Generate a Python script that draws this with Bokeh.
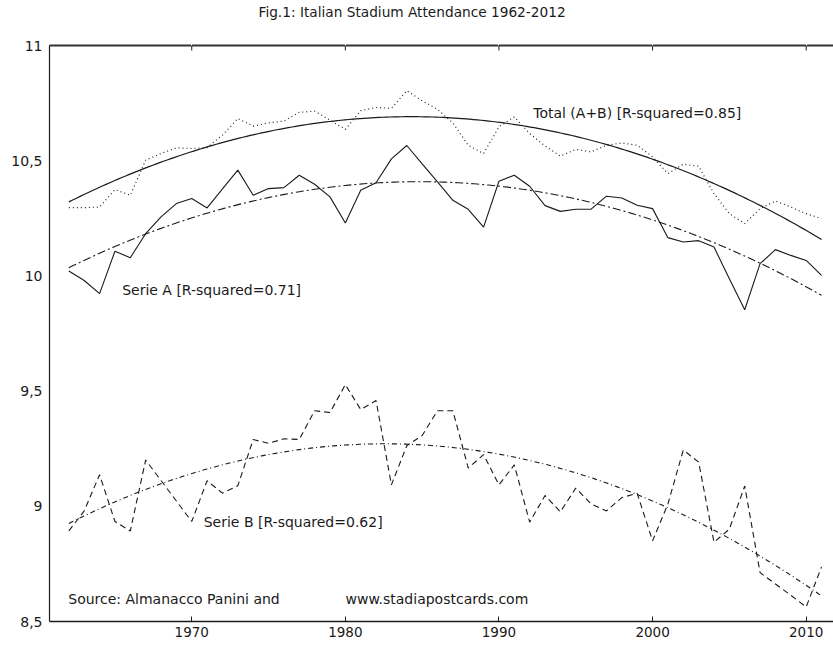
import numpy as np
from bokeh.plotting import figure
from bokeh.models import Label, LinearAxis, FixedTicker, Range1d, ColumnDataSource
from bokeh.embed import file_html
from bokeh.resources import INLINE

years = [1962, 1963, 1964, 1965, 1966, 1967, 1968, 1969, 1970, 1971,
         1972, 1973, 1974, 1975, 1976, 1977, 1978, 1979, 1980, 1981,
         1982, 1983, 1984, 1985, 1986, 1987, 1988, 1989, 1990, 1991,
         1992, 1993, 1994, 1995, 1996, 1997, 1998, 1999, 2000, 2001,
         2002, 2003, 2004, 2005, 2006, 2007, 2008, 2009, 2010, 2011]

serie_a = [10.021, 9.980, 9.923, 10.107, 10.079, 10.183, 10.256, 10.314, 10.336, 10.295,
           10.378, 10.459, 10.350, 10.379, 10.383, 10.437, 10.398, 10.343, 10.230, 10.372,
           10.404, 10.508, 10.566, 10.486, 10.408, 10.328, 10.289, 10.212, 10.411, 10.437,
           10.389, 10.305, 10.280, 10.289, 10.290, 10.346, 10.338, 10.307, 10.292, 10.166,
           10.147, 10.153, 10.125, 9.988, 9.853, 10.053, 10.114, 10.089, 10.067, 10.002]

serie_b = [8.893, 8.980, 9.137, 8.934, 8.893, 9.201, 9.112, 9.023, 8.934, 9.111,
           9.057, 9.089, 9.290, 9.273, 9.293, 9.290, 9.415, 9.407, 9.528, 9.420,
           9.459, 9.093, 9.263, 9.307, 9.415, 9.415, 9.166, 9.224, 9.093, 9.180,
           8.931, 9.047, 8.976, 9.079, 9.010, 8.980, 9.038, 9.056, 8.850, 9.010,
           9.244, 9.192, 8.844, 8.901, 9.088, 8.712, 8.663, 8.614, 8.563, 8.737]

total = [10.296, 10.296, 10.299, 10.375, 10.350, 10.502, 10.531, 10.556, 10.553, 10.557,
         10.611, 10.683, 10.650, 10.664, 10.672, 10.710, 10.715, 10.676, 10.636, 10.717,
         10.731, 10.727, 10.804, 10.760, 10.723, 10.664, 10.567, 10.531, 10.647, 10.690,
         10.618, 10.564, 10.520, 10.549, 10.538, 10.567, 10.577, 10.567, 10.517, 10.444,
         10.485, 10.476, 10.357, 10.270, 10.227, 10.292, 10.325, 10.299, 10.270, 10.249]

x_ticks = [1970, 1980, 1990, 2000, 2010]
x_tick_labels = ["1970", "1980", "1990", "2000", "2010"]
y_ticks = [8.5, 9, 9.5, 10, 10.5, 11]
y_tick_labels = ["8,5", "9", "9,5", "10", "10,5", "11"]

title_text = "Fig.1: Italian Stadium Attendance 1962-2012"
label_total = "Total (A+B) [R-squared=0.85]"
label_a = "Serie A [R-squared=0.71]"
label_b = "Serie B [R-squared=0.62]"
source_1 = "Source: Almanacco Panini and"
source_2 = "www.stadiapostcards.com"

FONT = "DejaVu Sans"
INK = "#1a1a1a"

Y0, Y1 = 8.5, 11.0
FRAME_H = 576

# quadratic trend fits (regression of each series on year)
yr = np.array(years, dtype=float)
grid = np.linspace(yr.min(), yr.max(), 200)
def quad_fit(vals):
    c = np.polyfit(yr - 1985.0, np.array(vals), 2)
    return np.polyval(c, grid - 1985.0)

src = ColumnDataSource(dict(year=years, a=serie_a, b=serie_b, t=total))
trend_src = ColumnDataSource(dict(x=grid, a=quad_fit(serie_a), b=quad_fit(serie_b), t=quad_fit(total)))

p = figure(width=833, height=643, output_backend="svg", toolbar_location=None,
           x_range=Range1d(1960.74, 2011.78), y_range=Range1d(Y0, Y1),
           x_axis_location=None, y_axis_location=None,
           min_border_left=49, min_border_right=0, min_border_top=45, min_border_bottom=22,
           title=title_text)
p.outline_line_color = None
p.xgrid.visible = False
p.ygrid.visible = False
p.background_fill_color = "white"
p.border_fill_color = "white"

# data lines
p.line("year", "t", source=src, line_color="#222222", line_width=1.2, line_dash="1 3")
p.line("year", "a", source=src, line_color=INK, line_width=1.1)
p.line("year", "b", source=src, line_color=INK, line_width=1.1, line_dash="6 4")
# trend lines
p.line("x", "t", source=trend_src, line_color=INK, line_width=1.2)
p.line("x", "a", source=trend_src, line_color=INK, line_width=1.1, line_dash="8 3 2 3")
p.line("x", "b", source=trend_src, line_color=INK, line_width=1.1, line_dash="5 3 1 3")

# axes
xb = LinearAxis(ticker=FixedTicker(ticks=x_ticks),
                major_label_overrides=dict(zip(x_ticks, x_tick_labels)))
xb.major_tick_in = 5
xb.major_tick_out = 0
xb.minor_tick_line_color = None
xb.axis_line_width = 1.5
xb.axis_line_color = INK
xb.major_tick_line_color = INK
xb.major_label_text_font = FONT
xb.major_label_text_font_size = "13.5px"
xb.major_label_text_color = INK
xb.major_label_standoff = 5
p.add_layout(xb, "below")

# top frame line: unlabeled; its (white) outward tick extent reserves room under the title
xt = LinearAxis(ticker=FixedTicker(ticks=x_ticks))
xt.major_tick_in = 0
xt.major_tick_out = 25
xt.major_tick_line_color = "white"
xt.minor_tick_line_color = None
xt.axis_line_width = 2
xt.axis_line_color = "#333333"
xt.major_label_text_color = None
xt.major_label_text_font_size = "1px"
xt.major_label_standoff = 0
p.add_layout(xt, "above")
tick_len = 5 * (Y1 - Y0) / FRAME_H
p.segment(x0=x_ticks, y0=[Y1] * len(x_ticks), x1=x_ticks, y1=[Y1 - tick_len] * len(x_ticks),
          line_color=INK, line_width=1)

# title
p.title.text_font = FONT
p.title.text_font_size = "13.7px"
p.title.text_font_style = "normal"
p.title.text_color = INK
p.title.align = "left"
p.title.offset = 209
p.title.standoff = 2

yl = LinearAxis(ticker=FixedTicker(ticks=y_ticks),
                major_label_overrides={(int(t) if float(t).is_integer() else t): s
                                       for t, s in zip(y_ticks, y_tick_labels)})
yl.major_tick_in = 0
yl.major_tick_out = 0
yl.minor_tick_line_color = None
yl.axis_line_width = 1.2
yl.axis_line_color = INK
yl.major_label_text_font = FONT
yl.major_label_text_font_size = "14px"
yl.major_label_text_color = INK
yl.major_label_standoff = 7
p.add_layout(yl, "left")

def add_label(x, y, txt):
    p.add_layout(Label(x=x, y=y, text=txt, text_font=FONT, text_font_size="14px",
                       text_color=INK, text_baseline="middle", text_align="left"))

add_label(1992.23, 10.708, label_total)
add_label(1965.47, 9.94, label_a)
add_label(1970.78, 8.934, label_b)
add_label(1961.96, 8.597, source_1)
add_label(1980.01, 8.597, source_2)

open("out.html", "w").write(file_html(p, INLINE))
